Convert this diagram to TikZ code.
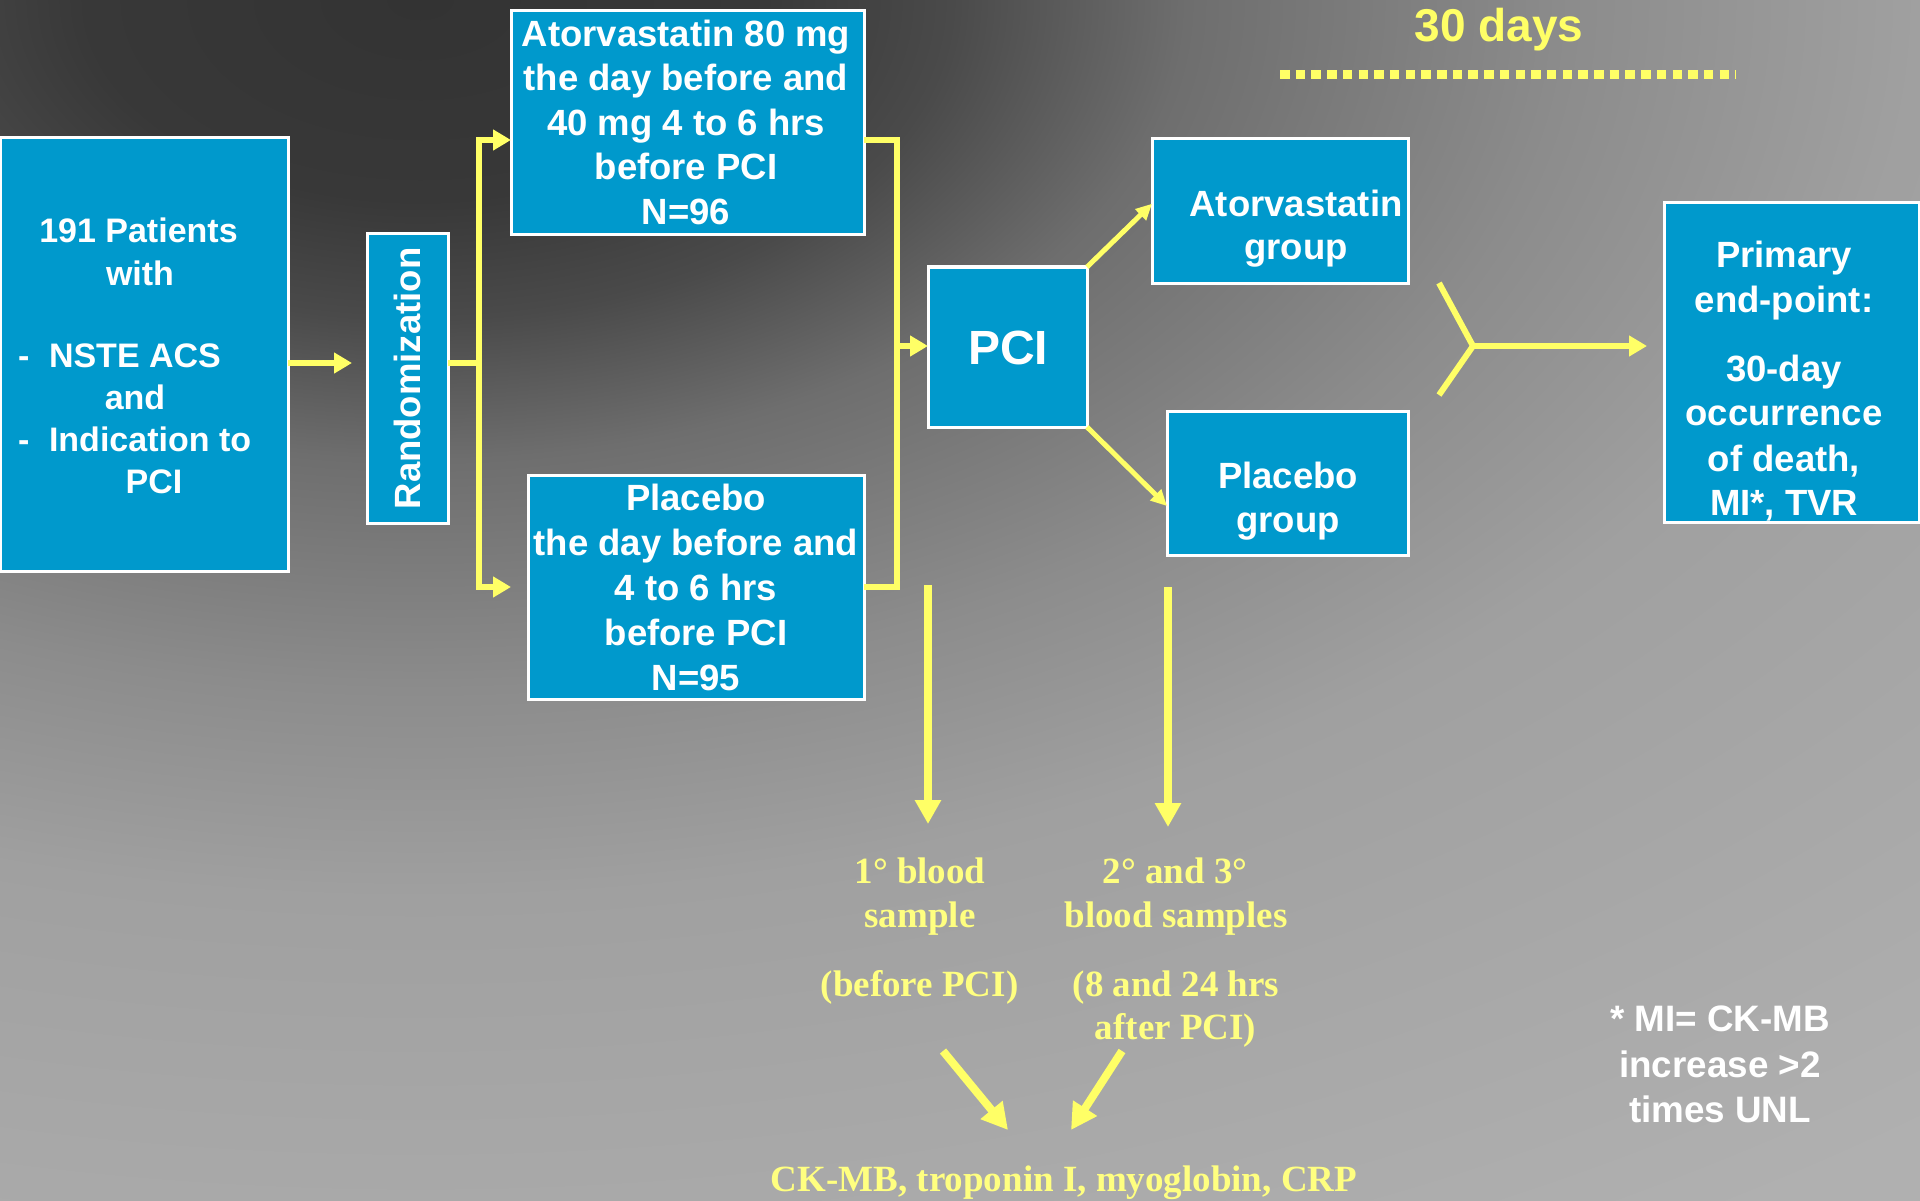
\documentclass[tikz,border=0pt]{standalone}
\usepackage{fontspec}
\setmainfont{Liberation Sans}
\newfontfamily\serifb{Liberation Serif}
\usetikzlibrary{arrows.meta}
\definecolor{boxblue}{HTML}{0099CC}
\definecolor{yarrow}{HTML}{FFFF66}
\definecolor{ytext}{HTML}{FFFF80}
\definecolor{bga}{HTML}{333333}
\definecolor{bgb}{HTML}{383838}
\definecolor{bgc}{HTML}{4A4A4A}
\definecolor{bgd}{HTML}{6E6E6E}
\definecolor{bge}{HTML}{8C8C8C}
\definecolor{bgf}{HTML}{A0A0A0}
\definecolor{bgg}{HTML}{A6A6A6}
\definecolor{bgh}{HTML}{B0B0B0}
\pgfdeclareradialshading{bgshade}{\pgfpoint{0bp}{0bp}}{color(0bp)=(bga); color(3.45bp)=(bgb); color(5.5bp)=(bgc); color(7.93bp)=(bgd); color(11.9bp)=(bge); color(15.5bp)=(bgf); color(19bp)=(bgg); color(25bp)=(bgh); color(50bp)=(bgh)}
\begin{document}
\begin{tikzpicture}[x=1pt,y=-1pt,
  box/.style={draw=white,line width=3pt,fill=boxblue,inner sep=0pt,outer sep=0pt},
  wt/.style={text=white,inner sep=0pt,anchor=base,font=\bfseries\fontsize{36.5}{44}\selectfont},
  patt/.style={wt,font=\bfseries\fontsize{34}{41}\selectfont},
  yt/.style={text=ytext,inner sep=0pt,anchor=base,font=\serifb\bfseries\fontsize{37}{45}\selectfont},
  conn/.style={draw=yarrow,line width=6pt},
  arrS/.style={conn,-{Triangle[length=18pt,width=20pt]}},
  arrT/.style={draw=yarrow,line width=5pt,-{Triangle[length=16pt,width=15pt]}},
  arrD/.style={draw=yarrow,line width=8pt,-{Triangle[length=24pt,width=25pt]}},
]
\useasboundingbox (0,0) rectangle (1920,1201);
% background
\fill[bgh] (0,0) rectangle (1920,1201);
\begin{scope}
  \clip (0,0) rectangle (1920,1201);
  \shade[shading=bgshade] (420,0) ellipse[x radius=2417, y radius=1450];
\end{scope}

% boxes
\node[box,minimum width=288pt,minimum height=433pt] (pat) at (144,354.5) {};
\node[box,minimum width=81pt,minimum height=289pt] (rand) at (407.5,378.5) {};
\node[box,minimum width=353pt,minimum height=224pt] (atv) at (687.5,123) {};
\node[box,minimum width=336pt,minimum height=224pt] (plc) at (696,587) {};
\node[box,minimum width=159pt,minimum height=160pt] (pci) at (1007.5,347) {};
\node[box,minimum width=256pt,minimum height=144.5pt] (atvg) at (1280,210.75) {};
\node[box,minimum width=241pt,minimum height=144pt] (plcg) at (1287.5,483) {};
\node[box,minimum width=255pt,minimum height=319pt] (prim) at (1791.5,362.5) {};

% patients text
\node[patt] (p1) at (138.5,243) {191 Patients};
\node[patt] (p2) at (140,285) {with};
\node[patt,anchor=base west] (p3) at (18,367) {-\hspace{19.5pt}NSTE ACS};
\node[patt] (p4) at (135,409.5) {and};
\node[patt,anchor=base west] (p5) at (18,451.6) {-\hspace{19.5pt}Indication to};
\node[patt] (p6) at (154,493) {PCI};

% randomization
\node[wt,anchor=center,rotate=90] (rt) at (rand.center) {Randomization};

% atorvastatin arm
\foreach \t [count=\i] in {Atorvastatin 80 mg, the day before and, 40 mg 4 to 6 hrs, before PCI, N=96}
  \node[wt] (a\i) at (686,2.1+44.4*\i) {\t};
% placebo arm
\foreach \t [count=\i] in {Placebo, the day before and, 4 to 6 hrs, before PCI, N=95}
  \node[wt] (b\i) at (696,465+45*\i) {\t};

% PCI
\node[wt,anchor=center,font=\bfseries\fontsize{48}{56}\selectfont] (pcit) at (1008,348) {PCI};

% groups
\node[wt] (g1) at (1296,217) {Atorvastatin};
\node[wt] (g2) at (1296,260) {group};
\node[wt] (h1) at (1288,488) {Placebo};
\node[wt] (h2) at (1288,532) {group};

% primary end-point
\node[wt] (e1) at (1784,267) {Primary};
\node[wt] (e2) at (1784,312) {end-point:};
\node[wt] (e3) at (1784,381) {30-day};
\node[wt] (e4) at (1784,425.6) {occurrence};
\node[wt] (e5) at (1784,471) {of death,};
\node[wt] (e6) at (1784,515.5) {MI*, TVR};

% 30 days
\node[wt,text=yarrow,font=\bfseries\fontsize{46}{54}\selectfont] (days) at (1499,42) {30 days};
\coordinate (dl) at (1280,75);
\coordinate (dr) at (1736,75);
\draw[draw=yarrow,line width=9pt,dash pattern=on 9.5pt off 6.2pt] (dl) -- (dr);

% connectors left part
\coordinate (c1) at (352,363);
\draw[arrS] (pat.east |- c1) -- (c1);
\coordinate (rsplit) at (479,363);
\draw[conn] (rand.east |- rsplit) -- (rsplit);
\coordinate (atvin) at (511,140);
\coordinate (plcin) at (511,587);
\draw[arrS,line join=miter] (rsplit) |- (atvin);
\draw[arrS,line join=miter] (rsplit) |- (plcin);
\coordinate (jn) at (897,346);
\draw[conn,line join=miter] (atv.east |- atvin) -| (jn);
\draw[conn,line join=miter] (plc.east) -| (jn);
\draw[arrS] (jn) -- (pci.west |- jn);

% PCI to groups
\draw[arrT] (pci.north east) -- ([yshift=7pt]atvg.west);
\draw[arrT] (pci.south east) -- ([yshift=-23pt]plcg.west);

% fork to primary
\coordinate (fk) at (1473,346);
\coordinate (fkt) at (1439,283);
\coordinate (fkb) at (1439,395);
\coordinate (fkend) at (1647,346);
\draw[conn,line join=miter] (fkt) -- (fk) -- (fkb);
\draw[arrS] (fk) -- (fkend);

% blood samples
\coordinate (d1s) at (928,585);
\coordinate (d1e) at (928,824);
\coordinate (d2s) at (1168,587);
\coordinate (d2e) at (1168,827);
\draw[arrD] (d1s) -- (d1e);
\draw[arrD] (d2s) -- (d2e);

\node[yt] (s1) at (920,883) {1° blood};
\node[yt] (s2) at (920,927) {sample};
\node[yt] (s3) at (919.6,996.6) {(before PCI)};
\node[yt] (t1) at (1175,883) {2° and 3°};
\node[yt] (t2) at (1176,927) {blood samples};
\node[yt] (t3) at (1176,996.6) {(8 and 24 hrs};
\node[yt] (t4) at (1175.5,1039.6) {after PCI)};
\node[yt] (ck) at (1064,1191.6) {CK-MB, troponin I, myoglobin, CRP};

\coordinate (q1s) at (943,1051);
\coordinate (q1e) at (1008,1130);
\coordinate (q2s) at (1122,1051);
\coordinate (q2e) at (1071,1130);
\draw[draw=yarrow,line width=8pt,-{Triangle[length=26pt,width=27pt]}] (q1s) -- (q1e);
\draw[draw=yarrow,line width=8pt,-{Triangle[length=26pt,width=27pt]}] (q2s) -- (q2e);

% footnote
\node[wt,font=\bfseries\fontsize{36.8}{45}\selectfont] (f1) at (1720,1031.7) {* MI= CK-MB};
\node[wt,font=\bfseries\fontsize{36.8}{45}\selectfont] (f2) at (1720,1077.7) {increase >2};
\node[wt,font=\bfseries\fontsize{36.8}{45}\selectfont] (f3) at (1720,1122) {times UNL};
\end{tikzpicture}
\end{document}
